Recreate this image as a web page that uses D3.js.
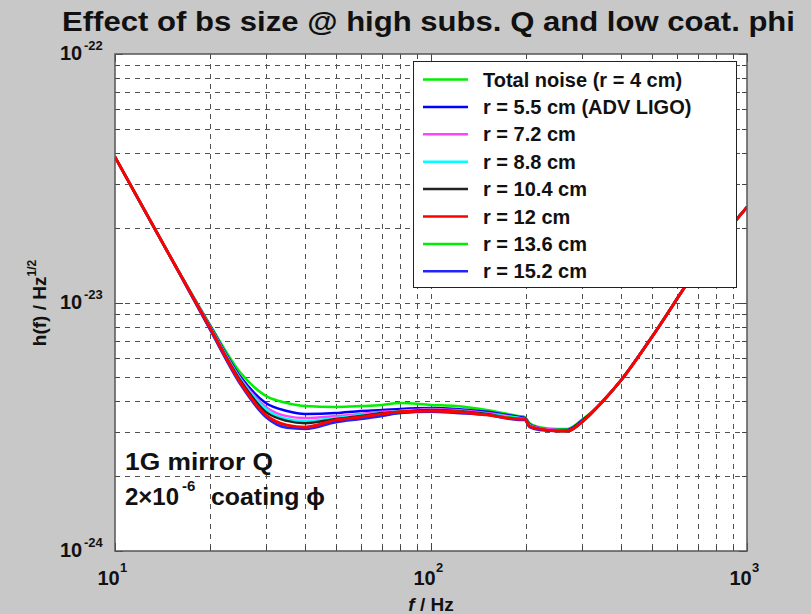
<!DOCTYPE html>
<html>
<head>
<meta charset="utf-8">
<script src="https://cdnjs.cloudflare.com/ajax/libs/d3/7.8.5/d3.min.js"></script>
<style>
  body { margin: 0; background: #c8c8c8; }
  svg { display: block; font-family: "Liberation Sans", Arial, sans-serif; }
</style>
</head>
<body>
<div id="chart"></div>
<script>
// frequencies (Hz) and strain noise in units of 1e-24 / sqrt(Hz)
let freqs = [10, 15, 20, 25, 30, 35, 40, 50, 60, 70, 80, 100, 120, 150, 190, 198, 205, 220, 250, 270, 300, 350, 400, 500, 700, 1000];

let totalR4  = [38.5, 15.2, 8.12, 5.20, 4.21, 3.94, 3.83, 3.80, 3.83, 3.87, 3.94, 3.87, 3.83, 3.69, 3.49, 3.46, 3.27, 3.15, 3.10, 3.10, 3.37, 4.01, 4.88, 7.26, 13.8, 24.2];
let r55      = [38.5, 15.2, 8.05, 5.01, 3.94, 3.66, 3.56, 3.59, 3.66, 3.69, 3.73, 3.76, 3.73, 3.63, 3.46, 3.43, 3.24, 3.13, 3.07, 3.07, 3.34, 4.01, 4.88, 7.26, 13.8, 24.2];
let r72      = [38.5, 15.2, 7.97, 4.92, 3.80, 3.49, 3.43, 3.49, 3.56, 3.63, 3.66, 3.73, 3.69, 3.59, 3.43, 3.40, 3.21, 3.13, 3.07, 3.04, 3.30, 4.01, 4.88, 7.26, 13.8, 24.2];
let r88      = [38.5, 15.2, 7.97, 4.88, 3.73, 3.40, 3.34, 3.43, 3.53, 3.59, 3.66, 3.69, 3.66, 3.56, 3.43, 3.40, 3.21, 3.10, 3.04, 3.04, 3.30, 4.01, 4.88, 7.26, 13.8, 24.2];
let r104     = [38.5, 15.2, 7.90, 4.83, 3.63, 3.34, 3.27, 3.40, 3.49, 3.59, 3.63, 3.69, 3.66, 3.56, 3.40, 3.40, 3.18, 3.10, 3.04, 3.04, 3.30, 4.01, 4.88, 7.26, 13.8, 24.2];
let r120     = [38.5, 15.2, 7.90, 4.75, 3.53, 3.21, 3.15, 3.37, 3.46, 3.56, 3.63, 3.66, 3.63, 3.53, 3.40, 3.40, 3.18, 3.10, 3.04, 3.04, 3.30, 4.01, 4.88, 7.26, 13.8, 24.2];
let r136     = [38.5, 15.2, 7.82, 4.70, 3.49, 3.15, 3.13, 3.34, 3.43, 3.53, 3.59, 3.66, 3.63, 3.53, 3.40, 3.37, 3.18, 3.10, 3.04, 3.04, 3.30, 4.01, 4.88, 7.26, 13.8, 24.2];
let r152     = [38.5, 15.2, 7.75, 4.66, 3.46, 3.13, 3.10, 3.30, 3.40, 3.49, 3.59, 3.63, 3.59, 3.53, 3.37, 3.37, 3.15, 3.07, 3.04, 3.04, 3.30, 4.01, 4.88, 7.26, 13.8, 24.2];

let seriesNames = ["Total noise (r = 4 cm)", "r = 5.5 cm (ADV LIGO)", "r = 7.2 cm", "r = 8.8 cm", "r = 10.4 cm", "r = 12 cm", "r = 13.6 cm", "r = 15.2 cm"];
let seriesValues = [totalR4, r55, r72, r88, r104, r120, r136, r152];
let seriesColors = ["#00ee00", "#0000ff", "#ff44ff", "#00ffff", "#222222", "#ff0000", "#00ee00", "#2222ff"];

let xTickExp = [1, 2, 3];
let yTickExp = [-22, -23, -24];

let unit = 1e-24;
let width = 811, height = 614;
let plotLeft = 115, plotRight = 747, plotTop = 54, plotBottom = 551;

let svg = d3.select("#chart").append("svg")
  .attr("width", width)
  .attr("height", height);

let x = d3.scaleLog().domain([10, 1000]).range([plotLeft, plotRight]);
let y = d3.scaleLog().domain([1e-24, 1e-22]).range([plotBottom, plotTop]);

svg.append("rect")
  .attr("x", plotLeft).attr("y", plotTop)
  .attr("width", plotRight - plotLeft).attr("height", plotBottom - plotTop)
  .attr("fill", "#fff");

/* Сетка */
let grid = svg.append("g")
  .attr("stroke", "#333")
  .attr("stroke-width", 1)
  .attr("stroke-dasharray", "5,5")
  .attr("opacity", 0.85);

let xt = x.ticks().filter(d => d > 10 && d < 1000);
let yt = y.ticks().filter(d => d > 1.01e-24 && d < 0.99e-22);

grid.selectAll(".gx").data(xt).enter().append("line")
  .attr("x1", d => Math.round(x(d)) + 0.5).attr("x2", d => Math.round(x(d)) + 0.5)
  .attr("y1", plotTop).attr("y2", plotBottom);

grid.selectAll(".gy").data(yt).enter().append("line")
  .attr("y1", d => Math.round(y(d)) + 0.5).attr("y2", d => Math.round(y(d)) + 0.5)
  .attr("x1", plotLeft).attr("x2", plotRight);

/* Засечки по всем четырём сторонам */
let ticks = svg.append("g").attr("stroke", "#444").attr("stroke-width", 1);
let isMajor = v => Math.abs(Math.log10(v) - Math.round(Math.log10(v))) < 1e-6;

ticks.selectAll(".tb").data(x.ticks()).enter().append("path")
  .attr("d", d => {
    let px = Math.round(x(d)) + 0.5, l = isMajor(d) ? 8 : 5;
    return "M" + px + "," + plotBottom + "v" + (-l) + "M" + px + "," + plotTop + "v" + l;
  });

ticks.selectAll(".tl").data(y.ticks()).enter().append("path")
  .attr("d", d => {
    let py = Math.round(y(d)) + 0.5, l = isMajor(d) ? 8 : 5;
    return "M" + plotLeft + "," + py + "h" + l + "M" + plotRight + "," + py + "h" + (-l);
  });

/* Кривые */
svg.append("clipPath").attr("id", "plot-clip")
  .append("rect")
  .attr("x", plotLeft).attr("y", plotTop)
  .attr("width", plotRight - plotLeft).attr("height", plotBottom - plotTop);

let line = d3.line()
  .x(d => x(d[0]))
  .y(d => y(d[1] * unit))
  .curve(d3.curveMonotoneX);

// красную (r = 12 cm) рисуем последней, как в оригинале
let drawOrder = [0, 1, 2, 3, 4, 6, 7, 5];

svg.append("g").attr("clip-path", "url(#plot-clip)")
  .selectAll("path")
  .data(drawOrder)
  .enter().append("path")
  .attr("d", i => line(freqs.map((f, k) => [f, seriesValues[i][k]])))
  .attr("fill", "none")
  .attr("stroke", i => seriesColors[i])
  .attr("stroke-width", i => i === 5 ? 3 : 2.5)
  .attr("stroke-linejoin", "round");

svg.append("rect")
  .attr("x", plotLeft).attr("y", plotTop)
  .attr("width", plotRight - plotLeft).attr("height", plotBottom - plotTop)
  .attr("fill", "none")
  .attr("stroke", "#555")
  .attr("stroke-width", 1.5);

/* Подписи осей */
let ylab = svg.append("g").attr("font-size", 20).attr("font-weight", "bold").attr("fill", "#111");
yTickExp.forEach(function(e) {
  let py = y(Math.pow(10, e));
  ylab.append("text").attr("x", 60).attr("y", py + 6).text("10");
  ylab.append("text").attr("x", 84).attr("y", py - 4).attr("font-size", 13).text(String(e));
});

let xlab = svg.append("g").attr("font-size", 20).attr("font-weight", "bold").attr("fill", "#111");
xTickExp.forEach(function(e) {
  let px = x(Math.pow(10, e));
  xlab.append("text").attr("x", px - 6.5).attr("y", 585).attr("text-anchor", "middle").text("10");
  xlab.append("text").attr("x", px + 5).attr("y", 572).attr("font-size", 13).text(String(e));
});

svg.append("text")
  .attr("x", 62).attr("y", 31)
  .attr("font-size", 28).attr("font-weight", "bold").attr("fill", "#111")
  .attr("textLength", 733).attr("lengthAdjust", "spacingAndGlyphs")
  .text("Effect of bs size @ high subs. Q and low coat. phi");

let yTitle = svg.append("text")
  .attr("transform", "translate(46,303) rotate(-90)")
  .attr("text-anchor", "middle")
  .attr("font-size", 19).attr("font-weight", "bold").attr("fill", "#111");
yTitle.append("tspan").text("h(f) / Hz");
yTitle.append("tspan").attr("dy", -10).attr("font-size", 12).text("1/2");

let xTitle = svg.append("text")
  .attr("x", 431).attr("y", 611)
  .attr("text-anchor", "middle")
  .attr("font-size", 19).attr("font-weight", "bold").attr("fill", "#111");
xTitle.append("tspan").attr("font-style", "italic").text("f");
xTitle.append("tspan").text(" / Hz");

/* Надписи внутри графика */
let note = svg.append("g").attr("font-size", 24).attr("font-weight", "bold").attr("fill", "#111");
note.append("text").attr("x", 125).attr("y", 470).attr("textLength", 148).attr("lengthAdjust", "spacingAndGlyphs").text("1G mirror Q");
note.append("text").attr("x", 125).attr("y", 505).text("2\u00d710");
note.append("text").attr("x", 182).attr("y", 491).attr("font-size", 15).text("-6");
note.append("text").attr("x", 211).attr("y", 505).attr("textLength", 114).attr("lengthAdjust", "spacingAndGlyphs").text("coating \u03d5");

/* Легенда */
let legend = svg.append("g");
legend.append("rect")
  .attr("x", 413.5).attr("y", 61.5)
  .attr("width", 323).attr("height", 226)
  .attr("fill", "#fff")
  .attr("stroke", "#222")
  .attr("stroke-width", 1);

let rows = legend.selectAll(".row").data(seriesNames).enter().append("g")
  .attr("transform", (d, i) => "translate(0," + (79.5 + i * 27.4) + ")");

rows.append("line")
  .attr("x1", 423).attr("x2", 468)
  .attr("stroke", (d, i) => seriesColors[i])
  .attr("stroke-width", 2.5);

rows.append("text")
  .attr("x", 483).attr("y", 7)
  .attr("font-size", 20).attr("font-weight", "bold").attr("fill", "#111")
  .text(d => d);
</script>
</body>
</html>
